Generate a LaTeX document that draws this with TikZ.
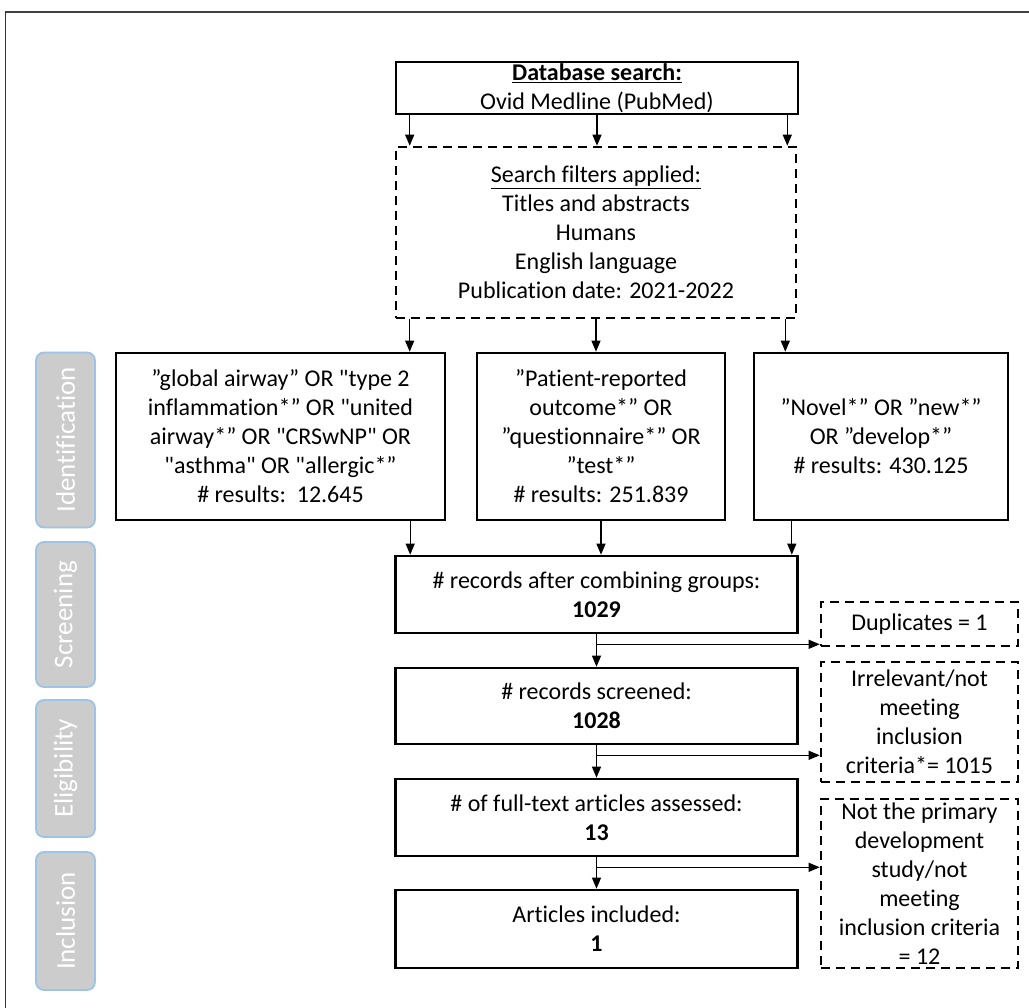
\documentclass[tikz,border=0pt]{standalone}
\usepackage{fontspec}
\setmainfont{Carlito}[Ligatures=TeXOff, RawFeature={-liga;-clig;-calt}]
\usepackage{tikz}
\usetikzlibrary{arrows.meta}
\usetikzlibrary{calc}

\definecolor{tabgray}{RGB}{204,204,204}
\definecolor{tabblue}{RGB}{157,195,230}

\tikzset{
  box/.style={draw, line width=2.6pt, align=center, inner sep=0pt,
    font=\fontsize{24}{29}\selectfont},
  dbox/.style={box, dash pattern=on 9pt off 6pt},
  arr/.style={line width=1.1pt, -{Triangle[length=11pt,width=9pt]}},
  tab/.style={draw=tabblue, fill=tabgray, line width=1.8pt, rounded corners=8pt,
    text=white, font=\fontsize{27}{30}\selectfont},
}

\begin{document}
\begin{tikzpicture}[x=1pt,y=-1pt]
    \useasboundingbox (0,0) rectangle (1029,1008);

    % frame
    \draw[line width=2pt, black!75] (5,12) -- (1029,12);
    \draw[line width=1pt, black!80] (5,12) -- (5,1008);

    \node[box, minimum width=402, minimum height=52] (db) at (597,88)
        {\underline{\textbf{Database search:}}\\Ovid Medline (PubMed)};
    \node[dbox, minimum width=400, minimum height=171] (filt) at (596,232.5)
        {\underline{Search filters applied:}\\Titles and abstracts\\Humans\\English language\\Publication date: 2021-2022};

    \node[box, minimum width=329, minimum height=167] (g1) at (280.5,436.5)
        {”global airway” OR "type 2\\inflammation*” OR "united\\airway*” OR "CRSwNP" OR\\"asthma" OR "allergic*”\\\#\ results:\ \ 12.645};
    \node[box, minimum width=248, minimum height=167] (g2) at (601,436.5)
        {”Patient-reported\\outcome*” OR\\”questionnaire*” OR\\”test*”\\\#\ results: 251.839};
    \node[box, minimum width=254, minimum height=167] (g3) at (881,436.5)
        {”Novel*” OR ”new*”\\OR ”develop*”\\\#\ results: 430.125};

    \node[box, minimum width=402, minimum height=77] (comb) at (596.5,594.5)
        {\#\ records after combining groups:\\\textbf{1029}};
    \node[box, minimum width=402, minimum height=76] (scr) at (596.5,706)
        {\#\ records screened:\\\textbf{1028}};
    \node[box, minimum width=402, minimum height=77] (full) at (596.5,817.5)
        {\#\ of full-text articles assessed:\\\textbf{13}};
    \node[box, minimum width=402, minimum height=78] (incl) at (596.5,929)
        {Articles included:\\\textbf{1}};

    \node[dbox, minimum width=197, minimum height=44] (dup) at (919.5,624)
        {Duplicates = 1};
    \node[dbox, minimum width=197, minimum height=120] (irr) at (919.5,722)
        {Irrelevant/not\\meeting\\inclusion\\criteria*= 1015};
    \node[dbox, minimum width=197, minimum height=169] (np) at (919.5,883.5)
        {Not the primary\\development\\study/not\\meeting\\inclusion criteria\\= 12};

    % side tabs
    \foreach \name/\txt/\yc/\h in {tid/Identification/440/175, tsc/Screening/614.5/145,
        tel/Eligibility/768.5/137, tin/Inclusion/921/138}
        \node[tab, rotate=90, minimum width=\h, minimum height=59] (\name) at (65.5,\yc) {\txt};

    % database -> filters
    \coordinate (a1) at ([xshift=15pt]db.south west);
    \coordinate (a3) at ([xshift=-12pt]db.south east);
    \foreach \y in {a1,db.south,a3}
        \draw[arr] (\y) -- (\y |- filt.north);

    % filters -> groups
    \coordinate (b1) at ([xshift=15pt]filt.south west);
    \coordinate (b3) at ([xshift=-12pt]filt.south east);
    \draw[arr] (b1) -- (b1 |- g1.north);
    \draw[arr] (filt.south) -- (filt.south |- g2.north);
    \draw[arr] (b3) -- (b3 |- g3.north);

    % groups -> combined
    \coordinate (c1) at ([xshift=16pt]comb.north west);
    \coordinate (c3) at ([xshift=-7pt]comb.north east);
    \draw[arr] (c1 |- g1.south) -- (c1);
    \draw[arr] (g2.south) -- (g2.south |- comb.north);
    \draw[arr] (c3 |- g3.south) -- (c3);

    % down the column, with the excluded ones to the right
    \foreach \a/\b/\c in {comb/scr/dup, scr/full/irr, full/incl/np} {
        \draw[arr] (\a) -- (\b);
        \coordinate (x\a) at ([yshift=-10pt]\a.south);
        \draw[arr] (x\a) -- (x\a -| \c.west);
    }
\end{tikzpicture}
\end{document}
